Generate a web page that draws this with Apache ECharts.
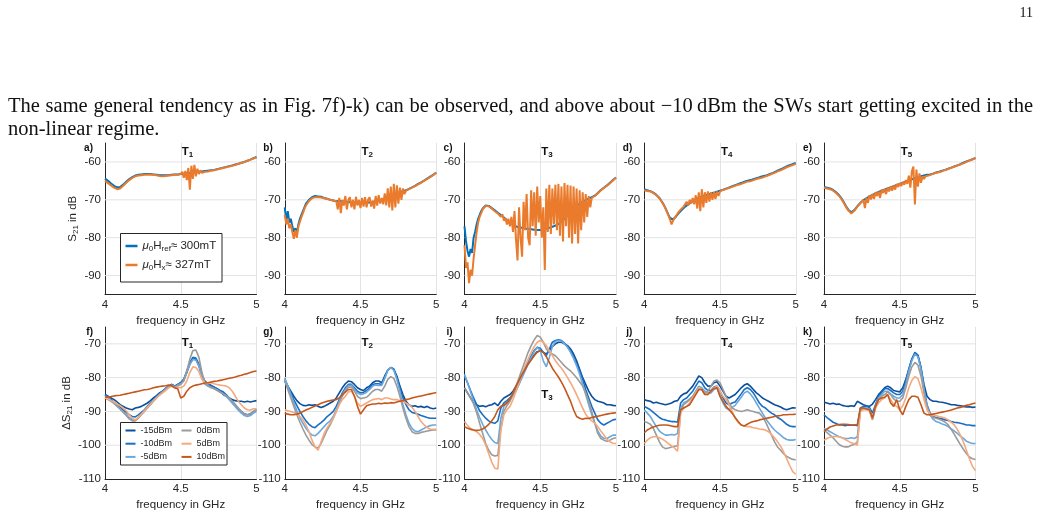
<!DOCTYPE html>
<html><head><meta charset="utf-8">
<script src="https://cdn.jsdelivr.net/npm/echarts@6/dist/echarts.min.js"></script>
<style>
html,body{margin:0;padding:0;background:#fff;}
#chart{position:absolute;left:0;top:0;width:1041px;height:517px;}
#pg{position:absolute;right:8px;top:5px;font:14px 'Liberation Serif',serif;color:#111;}
#para{position:absolute;left:8px;top:94px;width:1025px;font:20.5px/23px 'Liberation Serif',serif;text-align:justify;color:#111;}
</style></head>
<body>
<div id="chart"></div>
<div id="pg">11</div>
<div id="para">The same general tendency as in Fig. 7f)-k) can be observed, and above about −10&#8201;dBm the SWs start getting excited in the non-linear regime.</div>
<script>
// ---------- x values ----------
const freqTop = [4.00,4.01,4.02,4.03,4.04,4.05,4.06,4.07,4.08,4.09,
4.10,4.11,4.12,4.13,4.14,4.15,4.16,4.17,4.18,4.19,
4.20,4.21,4.22,4.23,4.24,4.25,4.26,4.27,4.28,4.29,
4.30,4.31,4.32,4.33,4.34,4.35,4.36,4.37,4.38,4.39,
4.40,4.41,4.42,4.43,4.44,4.45,4.46,4.47,4.48,4.49,
4.50,4.51,4.52,4.53,4.54,4.55,4.56,4.57,4.58,4.59,
4.60,4.61,4.62,4.63,4.64,4.65,4.66,4.67,4.68,4.69,
4.70,4.71,4.72,4.73,4.74,4.75,4.76,4.77,4.78,4.79,
4.80,4.81,4.82,4.83,4.84,4.85,4.86,4.87,4.88,4.89,
4.90,4.91,4.92,4.93,4.94,4.95,4.96,4.97,4.98,4.99,
5.00];
const freqBot = [4.00,4.02,4.04,4.06,4.08,4.10,4.12,4.14,4.16,4.18,
4.20,4.22,4.24,4.26,4.28,4.30,4.32,4.34,4.36,4.38,
4.40,4.42,4.44,4.46,4.48,4.50,4.52,4.54,4.56,4.58,
4.60,4.62,4.64,4.66,4.68,4.70,4.72,4.74,4.76,4.78,
4.80,4.82,4.84,4.86,4.88,4.90,4.92,4.94,4.96,4.98,
5.00];
const xTicks = [4, 4.5, 5];
const yTicksTop = [-90, -80, -70, -60];
const yTicksBot = [-110, -100, -90, -80, -70];
const panelLabelsTop = ['a)', 'b)', 'c)', 'd)', 'e)'];
const panelLabelsBot = ['f)', 'g)', 'i)', 'j)', 'k)'];
const titleNums = ['1', '2', '3', '4', '5'];
const powerNames = ['-15dBm', '-10dBm', '-5dBm', '0dBm', '5dBm', '10dBm'];

// ---------- top row: S21 (ref = mu0 Href 300mT, hx = mu0 Hx 327mT) ----------
const aRef = [-64.4,-64.7,-65.0,-65.4,-65.7,-66.0,-66.3,-66.5,-66.7,-66.7,
-66.6,-66.3,-66.0,-65.6,-65.2,-64.8,-64.5,-64.2,-64.0,-63.8,
-63.6,-63.5,-63.4,-63.3,-63.3,-63.2,-63.2,-63.2,-63.2,-63.2,
-63.2,-63.3,-63.3,-63.4,-63.4,-63.4,-63.5,-63.5,-63.5,-63.5,
-63.5,-63.5,-63.5,-63.4,-63.4,-63.4,-63.3,-63.3,-63.3,-63.2,
-63.2,-63.1,-63.1,-63.0,-63.0,-62.9,-62.9,-62.8,-62.8,-62.7,
-62.7,-62.6,-62.6,-62.5,-62.5,-62.4,-62.4,-62.3,-62.3,-62.2,
-62.2,-62.1,-62.1,-61.9,-61.9,-61.8,-61.7,-61.6,-61.5,-61.4,
-61.3,-61.2,-61.1,-61.0,-60.9,-60.8,-60.7,-60.6,-60.5,-60.4,
-60.2,-60.1,-60.0,-59.8,-59.7,-59.5,-59.4,-59.2,-59.0,-58.9,
-58.7];
const aHx = [-65.0,-65.3,-65.6,-65.9,-66.2,-66.5,-66.8,-67.0,-67.2,-67.1,
-67.0,-66.7,-66.3,-65.9,-65.5,-65.1,-64.8,-64.5,-64.2,-64.0,
-63.8,-63.7,-63.6,-63.5,-63.5,-63.4,-63.4,-63.3,-63.4,-63.3,
-63.3,-63.5,-63.4,-63.6,-63.5,-63.6,-63.7,-63.6,-63.8,-63.6,
-63.7,-63.9,-63.6,-63.8,-63.5,-63.7,-63.4,-63.6,-63.4,-63.5,
-63.2,-62.6,-64.2,-62.4,-64.8,-61.6,-67.3,-61.0,-64.5,-60.8,
-63.8,-61.8,-63.2,-62.2,-62.9,-62.4,-62.6,-62.3,-62.5,-62.2,
-62.3,-62.1,-62.2,-61.9,-62.0,-61.8,-61.8,-61.6,-61.6,-61.4,
-61.4,-61.2,-61.2,-61.0,-61.0,-60.8,-60.8,-60.6,-60.5,-60.4,
-60.3,-60.1,-60.0,-59.8,-59.7,-59.5,-59.4,-59.2,-59.1,-58.9,
-58.8];
const bRef = [-72.0,-75.5,-73.0,-76.0,-75.0,-77.0,-78.5,-77.5,-78.8,-76.5,
-75.0,-74.0,-73.0,-72.0,-71.0,-70.5,-70.0,-69.6,-69.3,-69.1,
-69.0,-68.9,-69.1,-69.0,-69.2,-69.2,-69.5,-69.4,-69.7,-69.7,
-70.0,-69.9,-70.2,-70.1,-70.4,-70.6,-70.3,-70.7,-70.4,-70.8,
-70.5,-70.9,-70.6,-70.9,-70.7,-71.0,-70.7,-71.0,-70.8,-71.1,
-70.8,-71.1,-70.8,-71.0,-70.7,-71.0,-70.7,-70.9,-70.6,-70.8,
-70.4,-70.6,-70.2,-70.4,-70.0,-70.2,-69.8,-69.9,-69.5,-69.5,
-69.1,-69.0,-68.7,-68.6,-68.3,-68.2,-68.0,-67.9,-67.7,-67.7,
-67.5,-67.3,-67.1,-66.9,-66.7,-66.5,-66.3,-66.1,-65.8,-65.6,
-65.4,-65.2,-64.9,-64.7,-64.4,-64.2,-63.9,-63.6,-63.4,-63.1,
-62.8];
const bHx = [-74.0,-76.5,-75.0,-77.5,-76.5,-78.5,-80.3,-78.0,-80.0,-77.0,
-75.8,-74.6,-73.5,-72.4,-71.5,-70.9,-70.3,-69.9,-69.6,-69.4,
-69.3,-69.2,-69.3,-69.2,-69.4,-69.3,-69.6,-69.5,-69.8,-69.7,
-70.0,-69.9,-70.2,-70.1,-70.4,-72.5,-69.5,-73.5,-70.0,-71.5,
-69.0,-72.5,-70.0,-69.3,-72.0,-70.0,-72.5,-69.2,-71.5,-70.0,
-72.2,-69.5,-71.8,-69.3,-72.0,-70.0,-69.3,-71.8,-70.2,-72.3,
-69.0,-71.5,-68.8,-71.0,-69.5,-71.2,-68.3,-71.5,-67.0,-72.0,
-66.5,-72.8,-65.8,-72.0,-66.2,-71.0,-66.8,-70.0,-67.0,-68.5,
-67.6,-67.4,-67.2,-67.0,-66.8,-66.6,-66.4,-66.2,-65.9,-65.7,
-65.5,-65.3,-65.0,-64.8,-64.5,-64.3,-64.0,-63.7,-63.5,-63.2,
-62.9];
const cRef = [-77.0,-81.0,-83.5,-85.0,-83.0,-84.0,-80.0,-78.5,-76.5,-75.0,
-74.0,-73.0,-72.3,-71.8,-71.5,-71.4,-71.6,-71.9,-72.2,-72.5,
-72.8,-73.1,-73.4,-73.7,-74.0,-74.3,-74.7,-75.0,-75.4,-75.7,
-76.0,-76.3,-76.5,-76.8,-77.0,-77.2,-77.3,-77.5,-77.4,-77.7,
-77.6,-77.9,-77.7,-78.0,-77.8,-78.2,-77.9,-78.3,-78.0,-78.4,
-78.0,-78.3,-77.8,-78.1,-77.6,-77.9,-77.4,-77.6,-77.1,-77.2,
-76.8,-76.7,-76.4,-76.1,-75.8,-75.3,-75.0,-74.5,-74.0,-73.5,
-73.0,-72.6,-72.2,-71.9,-71.6,-71.3,-71.0,-70.8,-70.5,-70.3,
-70.1,-69.9,-69.7,-69.5,-69.3,-69.2,-68.9,-68.6,-68.2,-67.8,
-67.4,-67.1,-66.8,-66.5,-66.2,-65.9,-65.5,-65.2,-64.8,-64.5,
-64.1];
const cHx = [-82.0,-88.0,-86.5,-92.0,-88.5,-90.0,-85.5,-82.0,-78.5,-76.0,
-74.5,-73.5,-72.5,-72.0,-71.6,-71.5,-71.7,-72.0,-72.3,-72.7,
-73.0,-73.3,-73.6,-74.0,-74.5,-73.8,-75.5,-74.8,-76.5,-75.0,
-77.0,-74.5,-78.5,-73.0,-80.5,-86.0,-72.0,-80.0,-85.0,-70.5,
-78.0,-68.5,-80.0,-82.0,-67.5,-77.0,-68.0,-79.5,-66.5,-76.0,
-69.0,-80.0,-72.0,-88.5,-67.0,-78.5,-66.0,-79.0,-67.0,-76.5,
-66.0,-78.0,-65.8,-79.5,-66.5,-81.0,-65.6,-77.0,-66.0,-80.0,
-66.2,-81.5,-66.5,-79.0,-67.0,-81.5,-67.5,-78.0,-68.0,-76.0,
-68.5,-74.5,-69.0,-72.0,-69.5,-70.0,-69.0,-68.7,-68.3,-67.9,
-67.5,-67.2,-66.9,-66.6,-66.3,-66.0,-65.6,-65.3,-64.9,-64.6,
-64.2];
const dRef = [-67.2,-67.4,-67.5,-67.6,-67.7,-67.9,-68.1,-68.4,-68.7,-69.1,
-69.5,-70.1,-70.7,-71.4,-72.2,-73.1,-74.0,-74.8,-75.3,-75.2,
-74.9,-74.4,-73.9,-73.4,-73.0,-72.6,-72.2,-71.8,-71.5,-71.2,
-70.9,-70.6,-70.4,-70.1,-69.9,-69.7,-69.5,-69.3,-69.2,-69.0,
-68.9,-68.7,-68.6,-68.5,-68.3,-68.2,-68.1,-68.0,-67.9,-67.7,
-67.6,-67.5,-67.3,-67.2,-67.0,-66.9,-66.7,-66.6,-66.4,-66.3,
-66.1,-66.0,-65.8,-65.7,-65.5,-65.4,-65.2,-65.1,-65.0,-64.9,
-64.8,-64.7,-64.5,-64.4,-64.3,-64.2,-64.1,-63.9,-63.8,-63.7,
-63.6,-63.5,-63.3,-63.2,-63.0,-62.9,-62.7,-62.5,-62.3,-62.1,
-62.0,-61.8,-61.6,-61.4,-61.2,-61.0,-60.9,-60.7,-60.6,-60.4,
-60.3];
const dHx = [-67.5,-67.6,-67.7,-67.7,-67.8,-68.0,-68.2,-68.5,-68.8,-69.2,
-69.6,-70.2,-70.8,-71.5,-72.3,-73.2,-74.2,-75.2,-76.5,-75.5,
-74.8,-74.2,-73.6,-73.2,-72.6,-72.3,-71.8,-71.5,-70.5,-71.5,
-70.0,-71.0,-69.5,-71.2,-68.8,-72.3,-68.0,-73.0,-67.2,-72.0,
-68.0,-70.8,-67.8,-70.5,-68.0,-70.0,-68.0,-69.8,-67.8,-69.0,
-67.8,-68.3,-67.4,-67.9,-67.1,-67.5,-66.9,-67.2,-66.6,-66.8,
-66.3,-66.5,-66.0,-66.2,-65.8,-65.9,-65.5,-65.6,-65.2,-65.4,
-65.1,-65.1,-64.8,-64.8,-64.5,-64.4,-64.3,-64.2,-64.1,-63.9,
-63.8,-63.7,-63.5,-63.4,-63.2,-63.0,-62.9,-62.7,-62.5,-62.3,
-62.2,-62.0,-61.8,-61.6,-61.4,-61.2,-61.1,-60.9,-60.8,-60.6,
-60.5];
const eRef = [-66.6,-66.7,-66.8,-66.9,-67.0,-67.2,-67.4,-67.6,-68.0,-68.4,
-68.8,-69.3,-69.9,-70.6,-71.3,-72.0,-72.6,-73.1,-73.3,-73.1,
-72.7,-72.2,-71.7,-71.2,-70.8,-70.4,-70.1,-69.8,-69.6,-69.3,
-69.1,-68.9,-68.7,-68.5,-68.3,-68.1,-67.9,-67.8,-67.6,-67.5,
-67.3,-67.2,-67.0,-66.9,-66.7,-66.6,-66.4,-66.3,-66.1,-66.0,
-65.8,-65.7,-65.5,-65.4,-65.2,-65.1,-64.9,-64.8,-64.6,-64.5,
-64.3,-64.2,-64.1,-63.9,-63.8,-63.7,-63.6,-63.5,-63.4,-63.3,
-63.3,-63.2,-63.1,-62.9,-62.8,-62.7,-62.6,-62.5,-62.3,-62.2,
-62.1,-61.9,-61.8,-61.6,-61.5,-61.3,-61.2,-61.0,-60.9,-60.7,
-60.6,-60.4,-60.2,-60.1,-59.9,-59.7,-59.6,-59.4,-59.3,-59.1,
-58.9];
const eHx = [-66.8,-66.9,-67.0,-67.1,-67.2,-67.4,-67.6,-67.8,-68.2,-68.6,
-69.0,-69.5,-70.1,-70.8,-71.5,-72.2,-72.8,-73.3,-73.6,-73.3,
-72.9,-72.4,-71.8,-71.3,-70.9,-70.6,-70.0,-72.2,-69.5,-70.8,
-68.8,-69.9,-68.5,-69.8,-68.0,-69.0,-67.8,-69.5,-67.3,-68.2,
-67.2,-68.5,-66.8,-67.8,-66.4,-67.6,-66.2,-67.3,-65.8,-66.6,
-65.6,-66.4,-65.3,-66.0,-64.8,-65.8,-63.6,-66.8,-62.5,-61.2,
-71.2,-62.0,-66.5,-63.0,-65.5,-63.8,-64.5,-63.8,-64.0,-63.6,
-63.4,-63.3,-63.2,-63.0,-62.9,-62.8,-62.7,-62.6,-62.4,-62.3,
-62.2,-62.0,-61.9,-61.7,-61.6,-61.4,-61.3,-61.1,-61.0,-60.8,
-60.7,-60.5,-60.3,-60.2,-60.0,-59.8,-59.7,-59.5,-59.4,-59.2,
-59.0];

// ---------- bottom row: delta S21 per power ----------
const fM15 = [-85.0,-85.5,-86.0,-86.5,-87.2,-88.0,-88.5,-89.0,-89.3,-89.5,
-89.0,-88.8,-88.5,-88.0,-87.5,-86.8,-86.0,-85.3,-84.5,-84.0,
-83.2,-82.5,-82.0,-82.5,-82.0,-81.5,-80.5,-78.5,-76.0,-74.5,
-74.5,-76.5,-79.5,-81.0,-81.8,-82.3,-82.8,-83.3,-84.0,-85.0,
-85.5,-86.0,-86.5,-86.8,-87.0,-87.0,-87.2,-87.0,-87.2,-87.0,
-86.8];
const fM10 = [-85.0,-85.7,-86.5,-87.3,-88.0,-88.8,-89.5,-90.3,-91.0,-91.5,
-91.6,-91.0,-90.3,-89.5,-88.5,-87.5,-86.5,-85.5,-84.7,-84.0,
-83.2,-82.5,-82.0,-82.5,-82.0,-81.5,-80.5,-78.0,-75.5,-74.0,
-74.2,-76.0,-79.5,-81.5,-82.0,-82.3,-82.8,-83.3,-83.8,-84.2,
-85.0,-86.0,-87.0,-88.0,-89.2,-90.0,-90.7,-91.0,-90.8,-90.0,
-89.5];
const fM5 = [-85.5,-86.0,-86.8,-87.6,-88.5,-89.3,-90.2,-91.0,-91.8,-92.4,
-92.5,-91.8,-90.8,-89.8,-88.8,-87.8,-86.8,-85.8,-85.0,-84.2,
-83.4,-82.6,-82.2,-82.7,-82.2,-81.8,-81.0,-78.5,-76.0,-74.6,
-74.8,-76.5,-80.0,-82.0,-82.5,-82.8,-83.2,-83.6,-84.2,-84.8,
-85.5,-86.5,-87.6,-88.6,-89.6,-90.5,-91.2,-91.5,-91.2,-90.5,
-90.0];
const f0 = [-86.0,-86.5,-87.0,-87.6,-88.4,-89.2,-90.2,-91.2,-92.2,-92.8,
-92.8,-92.0,-91.0,-90.0,-89.0,-88.0,-87.0,-86.0,-85.0,-84.3,
-83.6,-82.8,-82.3,-82.8,-82.4,-82.0,-80.8,-78.0,-74.5,-72.0,
-71.8,-74.0,-78.5,-81.5,-82.5,-83.0,-83.3,-83.8,-84.3,-84.8,
-85.3,-86.0,-87.0,-88.0,-89.0,-90.0,-90.8,-91.0,-90.6,-90.0,
-89.6];
const f5 = [-86.0,-86.3,-86.8,-87.2,-87.8,-88.3,-89.0,-89.8,-91.0,-92.0,
-92.5,-91.8,-90.8,-89.8,-88.8,-87.8,-86.8,-86.0,-85.2,-84.5,
-83.8,-83.0,-82.5,-83.0,-82.8,-83.0,-82.5,-81.0,-78.5,-76.8,
-77.0,-78.2,-80.5,-81.5,-81.8,-81.5,-81.8,-82.0,-82.2,-82.3,
-82.5,-83.0,-84.0,-85.5,-87.0,-88.0,-89.0,-89.5,-89.6,-89.2,
-89.2];
const f10 = [-85.8,-85.7,-85.6,-85.4,-85.3,-85.2,-85.0,-84.8,-84.6,-84.4,
-84.2,-84.0,-83.8,-83.6,-83.5,-83.3,-83.0,-82.8,-82.6,-82.5,
-82.4,-82.2,-82.4,-83.0,-83.3,-86.0,-85.5,-84.0,-83.0,-82.5,
-82.2,-82.0,-81.8,-81.6,-81.5,-81.3,-81.1,-81.0,-80.8,-80.6,
-80.4,-80.2,-80.0,-79.8,-79.5,-79.3,-79.0,-78.8,-78.5,-78.2,
-78.0];

const gM15 = [-81.0,-82.5,-84.0,-85.5,-86.8,-87.7,-88.2,-88.3,-88.0,-88.2,
-88.0,-88.5,-88.8,-88.5,-88.0,-87.5,-87.0,-86.0,-84.5,-83.0,
-81.8,-81.0,-81.2,-82.0,-83.0,-83.5,-83.8,-83.0,-82.5,-81.5,
-81.0,-81.0,-81.5,-79.5,-77.8,-77.0,-77.5,-79.5,-82.5,-85.0,
-87.0,-88.0,-88.5,-88.3,-88.7,-88.5,-88.8,-88.5,-89.0,-89.2,
-89.0];
const gM10 = [-80.5,-82.5,-84.5,-86.5,-88.3,-90.0,-91.5,-92.8,-93.8,-94.5,
-94.8,-94.0,-93.3,-92.5,-91.5,-90.8,-90.0,-88.5,-86.5,-84.5,
-83.0,-82.0,-82.0,-83.0,-84.0,-84.5,-84.3,-83.8,-83.0,-82.0,
-81.8,-81.8,-82.0,-80.0,-77.8,-77.0,-77.5,-80.0,-83.0,-86.0,
-88.0,-89.5,-90.3,-90.5,-90.8,-91.2,-91.5,-91.8,-92.0,-92.0,
-92.0];
const gM5 = [-80.0,-82.5,-85.0,-87.5,-89.8,-91.8,-93.5,-95.0,-96.2,-97.0,
-97.2,-96.5,-95.5,-94.5,-93.5,-92.8,-91.5,-89.5,-87.0,-85.0,
-83.5,-82.3,-82.2,-83.5,-84.5,-85.0,-84.8,-84.3,-83.5,-82.5,
-82.2,-82.3,-82.3,-80.2,-77.8,-77.0,-77.8,-80.5,-84.0,-88.0,
-91.0,-93.5,-95.0,-95.8,-96.0,-95.5,-95.0,-94.5,-94.2,-94.0,
-94.0];
const g0 = [-81.0,-83.5,-86.0,-88.5,-91.0,-93.2,-95.2,-97.0,-98.5,-99.8,
-100.5,-100.8,-99.5,-97.5,-95.5,-94.0,-92.0,-90.0,-87.5,-85.5,
-84.0,-82.8,-82.8,-84.0,-85.5,-86.2,-86.0,-85.8,-85.0,-84.0,
-83.5,-83.5,-84.0,-82.5,-80.5,-79.7,-80.2,-82.5,-85.5,-89.0,
-92.0,-94.5,-96.0,-96.5,-96.5,-96.2,-96.0,-95.8,-95.6,-95.5,
-95.5];
const g5 = [-89.5,-89.8,-90.0,-90.3,-90.8,-91.5,-92.5,-94.0,-96.0,-98.5,
-100.5,-101.5,-99.0,-96.5,-94.8,-93.5,-92.0,-90.0,-88.0,-86.5,
-85.5,-84.2,-84.0,-85.5,-87.5,-88.5,-88.0,-87.5,-87.0,-86.5,
-86.3,-86.2,-86.5,-86.0,-86.0,-86.3,-86.5,-86.5,-86.8,-87.0,
-87.5,-88.0,-88.8,-90.0,-91.5,-93.0,-94.0,-94.8,-95.2,-95.3,
-95.3];
const g10 = [-90.5,-90.8,-91.0,-91.0,-90.8,-90.5,-90.0,-89.6,-89.2,-88.8,
-88.4,-88.0,-87.6,-87.3,-87.0,-86.8,-86.6,-86.5,-86.0,-85.0,
-84.3,-83.5,-83.5,-85.5,-88.5,-90.8,-89.5,-88.3,-88.0,-87.8,
-87.8,-87.6,-87.7,-87.5,-87.6,-87.4,-87.5,-87.2,-87.0,-86.8,
-86.5,-86.3,-86.0,-85.8,-85.6,-85.4,-85.2,-85.0,-84.8,-84.6,
-84.4];

const iM15 = [-83.0,-84.5,-86.0,-87.2,-88.0,-88.5,-88.3,-88.6,-88.2,-88.0,
-87.5,-88.3,-87.0,-86.0,-85.5,-85.0,-84.0,-82.5,-80.8,-79.0,
-77.2,-75.8,-74.5,-73.3,-72.3,-72.0,-72.5,-73.0,-72.0,-70.8,
-70.0,-69.5,-69.5,-70.0,-70.5,-71.5,-73.0,-75.0,-77.5,-80.0,
-82.0,-84.0,-85.5,-86.5,-87.0,-87.2,-87.5,-88.0,-88.0,-88.2,
-88.3];
const iM10 = [-79.5,-81.5,-83.8,-86.0,-88.0,-89.8,-91.0,-92.0,-92.8,-93.3,
-93.5,-92.8,-89.0,-87.5,-86.8,-86.0,-85.0,-83.5,-81.5,-79.5,
-77.5,-75.5,-73.5,-72.0,-71.0,-71.3,-72.5,-73.5,-71.5,-69.5,
-69.0,-68.8,-69.0,-69.8,-70.8,-72.0,-73.8,-75.8,-78.0,-80.5,
-83.5,-86.0,-88.5,-90.5,-92.5,-93.5,-94.0,-93.5,-93.0,-92.5,
-92.3];
const iM5 = [-79.0,-81.5,-84.2,-87.0,-89.5,-91.8,-93.8,-95.5,-97.0,-98.3,
-99.2,-99.5,-92.0,-88.5,-87.3,-86.5,-85.3,-84.0,-82.0,-80.0,
-78.0,-76.0,-74.0,-72.3,-71.0,-72.0,-75.0,-76.8,-74.0,-70.8,
-69.3,-69.0,-69.2,-70.0,-71.0,-72.5,-74.3,-76.5,-79.0,-82.0,
-85.0,-88.0,-91.0,-93.5,-95.8,-97.3,-98.0,-98.0,-97.5,-97.0,
-97.0];
const i0 = [-83.0,-84.5,-86.0,-87.8,-90.3,-93.5,-96.5,-99.5,-101.5,-102.8,
-103.2,-103.0,-95.0,-90.0,-88.3,-87.0,-85.0,-82.5,-80.0,-77.5,
-75.0,-72.5,-70.5,-68.8,-67.5,-68.0,-69.5,-71.5,-72.5,-73.0,
-73.5,-74.5,-75.5,-76.5,-77.3,-78.0,-79.0,-80.0,-81.2,-82.5,
-84.5,-87.0,-90.0,-93.5,-96.5,-98.0,-98.5,-98.8,-98.5,-98.0,
-97.8];
const i5 = [-93.0,-94.2,-95.0,-95.5,-96.0,-96.8,-98.0,-100.0,-102.5,-105.0,
-106.8,-107.0,-95.5,-91.0,-89.5,-88.5,-86.5,-84.0,-81.5,-79.0,
-76.5,-74.5,-72.5,-70.8,-69.5,-69.0,-69.5,-70.5,-72.0,-73.5,
-75.0,-76.2,-77.2,-78.5,-80.0,-81.5,-83.2,-85.0,-87.0,-89.0,
-90.8,-92.0,-92.8,-93.5,-94.5,-95.8,-97.0,-98.2,-99.0,-99.4,
-99.5];
const i10 = [-94.5,-95.0,-95.3,-95.5,-95.6,-95.5,-95.2,-94.6,-93.8,-92.8,
-91.5,-89.5,-88.5,-88.2,-87.5,-86.3,-84.5,-82.5,-80.8,-79.0,
-77.5,-76.0,-74.8,-73.5,-72.5,-72.0,-72.5,-73.8,-75.5,-77.2,
-78.5,-79.8,-81.3,-83.0,-85.0,-87.0,-89.5,-91.5,-92.0,-92.3,
-92.0,-92.1,-91.8,-91.6,-91.4,-91.2,-91.0,-90.8,-90.6,-90.5,
-90.4];

const jM15 = [-86.5,-86.8,-87.0,-87.5,-87.3,-87.6,-87.8,-88.0,-87.8,-87.5,
-87.0,-86.8,-85.5,-84.8,-84.5,-83.5,-82.5,-81.0,-79.5,-80.0,
-81.5,-82.5,-82.5,-81.5,-81.2,-82.5,-84.0,-85.5,-86.0,-85.5,
-85.0,-84.0,-83.0,-82.2,-81.8,-82.5,-83.5,-84.5,-85.2,-86.0,
-86.5,-87.0,-87.5,-88.0,-88.3,-88.7,-89.2,-89.5,-89.2,-88.9,
-89.0];
const jM10 = [-88.5,-89.0,-89.5,-90.3,-91.0,-91.8,-92.3,-92.5,-92.8,-93.0,
-93.0,-93.2,-87.5,-86.5,-86.0,-85.0,-84.0,-82.5,-81.0,-81.5,
-83.0,-83.8,-83.8,-82.8,-82.5,-84.0,-86.0,-87.5,-88.0,-87.5,
-87.2,-86.0,-84.8,-83.5,-83.0,-83.5,-84.5,-86.0,-87.5,-88.5,
-89.0,-89.8,-90.5,-91.0,-91.8,-92.3,-93.0,-93.8,-94.3,-94.5,
-94.5];
const jM5 = [-89.5,-90.5,-91.5,-93.0,-94.5,-95.8,-96.5,-97.0,-97.0,-96.8,
-97.0,-96.5,-89.0,-87.5,-87.0,-86.3,-85.5,-84.0,-82.5,-83.0,
-84.0,-84.5,-84.5,-83.5,-83.0,-85.5,-87.5,-89.0,-89.5,-88.8,
-88.2,-87.0,-85.8,-84.5,-84.0,-84.8,-86.0,-87.5,-89.0,-90.5,
-92.0,-93.3,-94.5,-95.5,-96.3,-97.0,-97.8,-98.3,-98.5,-98.5,
-98.3];
const j0 = [-93.0,-93.3,-93.8,-95.0,-97.0,-99.0,-100.5,-101.0,-100.8,-100.5,
-100.3,-100.2,-90.0,-88.0,-87.3,-86.5,-85.5,-84.5,-83.5,-83.5,
-84.8,-84.0,-82.5,-81.0,-80.7,-81.5,-83.5,-85.5,-87.5,-89.0,
-89.5,-89.8,-90.0,-89.8,-89.5,-89.8,-90.0,-90.3,-90.5,-91.5,
-93.0,-95.0,-97.0,-99.0,-100.5,-101.5,-102.5,-103.3,-103.8,-104.2,
-104.3];
const j5 = [-99.5,-98.5,-97.8,-97.5,-97.5,-97.8,-98.2,-98.8,-99.5,-100.2,
-100.8,-101.8,-90.5,-89.0,-88.5,-87.5,-86.0,-84.5,-83.0,-83.5,
-85.0,-85.0,-84.0,-83.0,-82.5,-84.0,-85.5,-86.5,-88.0,-90.0,
-92.0,-93.3,-94.0,-94.3,-94.5,-94.5,-94.8,-95.0,-95.2,-95.3,
-95.5,-96.0,-96.8,-97.8,-99.0,-100.3,-102.0,-104.0,-106.0,-107.8,
-108.6];
const j10 = [-96.3,-95.5,-95.0,-94.6,-94.3,-94.1,-94.0,-94.0,-94.1,-94.3,
-94.5,-94.5,-89.5,-89.0,-88.5,-88.0,-86.5,-85.0,-83.5,-83.5,
-85.0,-85.0,-84.0,-83.2,-83.0,-85.5,-87.0,-88.5,-89.5,-90.5,
-91.8,-93.0,-94.0,-94.3,-93.8,-93.3,-93.0,-92.8,-92.5,-92.3,
-92.1,-91.9,-91.7,-91.5,-91.3,-91.2,-91.0,-91.0,-90.9,-90.9,
-90.8];

const kM15 = [-87.3,-87.5,-87.8,-87.6,-87.9,-87.8,-88.2,-88.4,-88.5,-88.3,
-88.5,-87.0,-87.5,-88.0,-88.3,-88.5,-87.8,-86.5,-85.0,-84.0,
-83.0,-82.5,-83.0,-83.8,-84.0,-84.2,-83.0,-80.5,-77.5,-74.5,
-72.8,-73.5,-77.0,-82.0,-85.5,-86.5,-87.0,-87.0,-87.2,-87.3,
-87.5,-87.7,-88.0,-88.0,-88.2,-88.3,-88.5,-88.7,-88.6,-88.8,
-88.7];
const kM10 = [-91.0,-91.8,-92.5,-93.2,-93.6,-94.0,-94.0,-94.2,-94.0,-94.1,
-94.0,-94.2,-89.0,-88.5,-88.5,-88.8,-90.5,-88.0,-85.5,-84.5,
-83.3,-83.2,-83.8,-84.5,-85.0,-85.0,-84.0,-81.0,-77.5,-74.5,
-72.5,-73.3,-77.0,-83.0,-88.0,-90.5,-91.5,-91.8,-92.0,-92.2,
-92.5,-92.7,-93.0,-93.2,-93.3,-93.5,-93.7,-94.0,-94.0,-94.2,
-94.2];
const kM5 = [-95.0,-95.5,-96.0,-96.5,-97.0,-97.5,-97.8,-98.0,-98.0,-97.8,
-98.0,-97.5,-89.5,-89.0,-89.0,-89.3,-92.0,-88.5,-86.0,-85.0,
-84.0,-84.0,-84.8,-85.5,-86.0,-86.0,-85.0,-82.0,-78.0,-75.0,
-73.0,-73.8,-77.5,-83.5,-88.5,-91.0,-92.3,-93.0,-93.3,-93.7,
-94.0,-94.5,-95.2,-95.8,-96.5,-97.3,-98.0,-98.8,-99.2,-99.5,
-99.5];
const k0 = [-95.5,-96.3,-97.0,-97.8,-98.8,-99.8,-100.3,-100.5,-100.5,-100.0,
-99.8,-99.0,-89.5,-89.2,-89.3,-89.8,-92.5,-89.0,-86.5,-85.5,
-85.0,-84.2,-85.0,-86.3,-87.0,-87.0,-86.0,-83.0,-79.5,-76.8,
-75.5,-76.3,-79.5,-84.5,-89.0,-91.0,-91.8,-92.0,-92.3,-92.7,
-93.2,-94.0,-95.3,-96.8,-98.3,-99.8,-101.2,-102.5,-103.5,-104.0,
-104.2];
const k5 = [-98.5,-98.0,-97.6,-97.4,-97.4,-97.5,-97.8,-98.3,-98.8,-99.3,
-99.6,-100.0,-90.0,-89.5,-89.5,-89.8,-92.3,-89.0,-87.5,-86.5,
-86.0,-85.0,-86.5,-88.0,-88.5,-89.5,-88.3,-86.0,-83.0,-80.8,
-79.7,-80.3,-83.0,-86.5,-89.5,-90.8,-91.2,-91.3,-91.5,-91.7,
-92.0,-92.5,-93.2,-94.0,-95.3,-97.0,-99.0,-101.5,-104.0,-106.3,
-107.5];
const k10 = [-96.0,-95.2,-94.6,-94.3,-94.0,-93.9,-93.8,-93.8,-93.9,-94.0,
-94.0,-94.0,-89.0,-89.0,-89.3,-89.5,-92.0,-88.5,-86.5,-86.0,
-85.8,-85.0,-87.5,-88.5,-86.5,-89.5,-91.0,-88.5,-86.5,-85.5,
-85.5,-85.8,-88.0,-90.5,-91.0,-91.0,-90.8,-90.6,-90.4,-90.2,
-90.0,-89.8,-89.6,-89.3,-89.0,-88.8,-88.5,-88.2,-88.0,-87.7,
-87.5];

// ---------- styling ----------
const FF = "'Liberation Sans', Arial, Helvetica, sans-serif";
const AX = '#262626';
const GRIDC = '#e3e3e3';
const colRef = '#0072BD', colHx = '#EA7B2C';
const powerColors = ['#0B4F9C', '#1B6FC2', '#6AA8DD', '#9B9B9B', '#F4A97E', '#C4581C'];

const TOP = [[aRef, aHx], [bRef, bHx], [cRef, cHx], [dRef, dHx], [eRef, eHx]];
const BOT = [[fM15, fM10, fM5, f0, f5, f10], [gM15, gM10, gM5, g0, g5, g10],
             [iM15, iM10, iM5, i0, i5, i10], [jM15, jM10, jM5, j0, j5, j10],
             [kM15, kM10, kM5, k0, k5, k10]];

const GL = [105, 284.75, 464.5, 644.25, 824];
const GW = 151.5;
const ROWS = [
  {top: 143, h: 151.5, min: -95, max: -55, ticks: yTicksTop},
  {top: 327, h: 152, min: -110, max: -65, ticks: yTicksBot}
];
const pairs = (xs, ys) => xs.map((x, i) => [x, ys[i]]);

const grid = [], xAxis = [], yAxis = [], series = [], graphic = [];
const subRich = {
  n: {fontSize: 11.5, lineHeight: 14, color: AX, fontFamily: FF},
  s: {fontSize: 8, lineHeight: 7, verticalAlign: 'bottom', color: AX, fontFamily: FF}
};

for (let r = 0; r < 2; r++) {
  const R = ROWS[r];
  for (let c = 0; c < 5; c++) {
    const idx = r * 5 + c;
    grid.push({left: GL[c], top: R.top, width: GW, height: R.h, containLabel: false});
    xAxis.push({
      type: 'value', gridIndex: idx, min: 4, max: 5, interval: 0.5,
      axisLine: {show: true, onZero: false, lineStyle: {color: AX, width: 1}},
      axisTick: {show: false},
      axisLabel: {color: AX, fontSize: 11.5, fontFamily: FF, margin: 4,
                  formatter: v => xTicks.includes(v) ? String(v) : ''},
      splitLine: {show: true, lineStyle: {color: GRIDC, width: 1}},
      name: 'frequency in GHz', nameLocation: 'middle', nameGap: 20,
      nameTextStyle: {color: AX, fontSize: 11.5, fontFamily: FF}
    });
    const ya = {
      type: 'value', gridIndex: idx, min: R.min, max: R.max, interval: 5,
      axisLine: {show: true, onZero: false, lineStyle: {color: AX, width: 1}},
      axisTick: {show: false},
      splitLine: {show: false},
      axisLabel: {color: AX, fontSize: 11.5, fontFamily: FF, margin: 4,
                  formatter: v => R.ticks.includes(v) ? String(v) : ''}
    };
    if (c === 0) {
      ya.name = r === 0 ? '{n|S}{s|21}{n| in dB}' : '{n|ΔS}{s|21}{n| in dB}';
      ya.nameLocation = 'middle';
      ya.nameGap = r === 0 ? 25 : 27;
      ya.nameTextStyle = {color: AX, fontSize: 11.5, fontFamily: FF, rich: subRich};
    }
    yAxis.push(ya);

    // horizontal grid lines at the tick values
    R.ticks.forEach(t => {
      if (t === R.min) return;
      series.push({type: 'line', xAxisIndex: idx, yAxisIndex: idx, silent: true, z: 1,
        data: [[4, t], [5, t]], symbol: 'none', lineStyle: {color: GRIDC, width: 1},
        animation: false, tooltip: {show: false}});
    });

    if (r === 0) {
      const [ref, hx] = TOP[c];
      series.push({type: 'line', name: 'ref', xAxisIndex: idx, yAxisIndex: idx,
        data: pairs(freqTop, ref), symbol: 'none', z: 2,
        lineStyle: {color: colRef, width: 2}, itemStyle: {color: colRef}, animation: false});
      series.push({type: 'line', name: 'hx', xAxisIndex: idx, yAxisIndex: idx,
        data: pairs(freqTop, hx), symbol: 'none', z: 3,
        lineStyle: {color: colHx, width: 2}, itemStyle: {color: colHx}, animation: false});
    } else {
      BOT[c].forEach((arr, k) => {
        series.push({type: 'line', name: powerNames[k], xAxisIndex: idx, yAxisIndex: idx,
          data: pairs(freqBot, arr), symbol: 'none', z: 2,
          lineStyle: {color: powerColors[k], width: 1.6}, itemStyle: {color: powerColors[k]},
          animation: false});
      });
    }

    // panel letter
    graphic.push({type: 'text', x: GL[c] - 12, y: r === 0 ? 148 : 332, z: 11,
      style: {text: (r === 0 ? panelLabelsTop : panelLabelsBot)[c], fill: '#111',
              font: 'bold 10px ' + FF, align: 'right', verticalAlign: 'middle'}});
    // title T_n
    const ty = r === 0 ? 152 : (c === 2 ? 395 : 343);
    graphic.push({type: 'text', x: GL[c] + GW / 2 + 1, y: ty, z: 11,
      style: {text: '{t|T}{s|' + titleNums[c] + '}', align: 'left', verticalAlign: 'middle',
        rich: {t: {fontSize: 11.5, fontWeight: 'bold', lineHeight: 14, fill: '#111', color: '#111', fontFamily: FF},
               s: {fontSize: 8, fontWeight: 'bold', lineHeight: 7, verticalAlign: 'bottom', fill: '#111', color: '#111', fontFamily: FF}}}});
  }
}

// legend boxes
graphic.push({type: 'rect', z: 10, shape: {x: 120.5, y: 233.5, width: 101.5, height: 48.5},
  style: {fill: '#fff', stroke: AX, lineWidth: 1}});
graphic.push({type: 'rect', z: 10, shape: {x: 120.5, y: 422.5, width: 106.5, height: 42.5},
  style: {fill: '#fff', stroke: AX, lineWidth: 1}});

const legendRich = {
  n: {fontSize: 11.5, lineHeight: 14, color: AX, fontFamily: FF},
  i: {fontSize: 11.5, lineHeight: 14, fontStyle: 'italic', color: AX, fontFamily: FF},
  s: {fontSize: 8, lineHeight: 7, verticalAlign: 'bottom', color: AX, fontFamily: FF}
};
const legend = [
  {data: ['ref', 'hx'], orient: 'vertical', left: 125.5, top: 240, padding: 0,
   itemWidth: 12, itemHeight: 2.5, itemGap: 6, icon: 'rect', z: 12, selectedMode: false,
   formatter: n => n === 'ref' ? '{i|μ}{s|0}{n|H}{s|ref}{n|≈ 300mT}' : '{i|μ}{s|0}{n|H}{s|x}{n|≈ 327mT}',
   textStyle: {color: AX, fontSize: 11.5, fontFamily: FF, rich: legendRich}},
  {data: powerNames.slice(0, 3), orient: 'vertical', left: 125.5, top: 425.5, padding: 0,
   itemWidth: 10, itemHeight: 2, itemGap: 3.2, icon: 'rect', z: 12, selectedMode: false,
   textStyle: {color: AX, fontSize: 9, lineHeight: 10, fontFamily: FF}},
  {data: powerNames.slice(3, 6), orient: 'vertical', left: 181.5, top: 425.5, padding: 0,
   itemWidth: 10, itemHeight: 2, itemGap: 3.2, icon: 'rect', z: 12, selectedMode: false,
   textStyle: {color: AX, fontSize: 9, lineHeight: 10, fontFamily: FF}}
];

const chart = echarts.init(document.getElementById('chart'), null, {renderer: 'canvas'});
chart.setOption({animation: false, grid, xAxis, yAxis, series, legend, graphic});
</script>
</body></html>
